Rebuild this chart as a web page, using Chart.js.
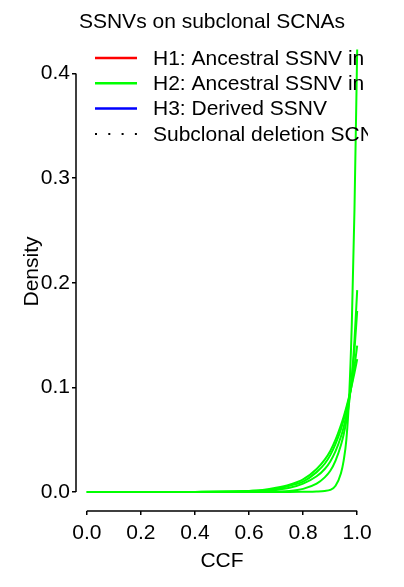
<!DOCTYPE html>
<html>
<head>
<meta charset="utf-8">
<script src="https://cdn.jsdelivr.net/npm/chart.js@4"></script>
<style>
  body { margin: 0; background: #fff; }
</style>
</head>
<body>
<canvas id="chart" width="404" height="587"></canvas>
<script>
// CCF grid and density curves (H2, green)
const ccf = [0, 0.1, 0.2, 0.3, 0.4, 0.5, 0.6, 0.65, 0.7, 0.75, 0.8, 0.85, 0.88, 0.9, 0.92, 0.94, 0.95, 0.96, 0.97, 0.98, 0.99, 1.0];
const curveA = [0, 0, 0, 0, 0, 0, 0, 0, 0, 0, 0.0002, 0.0005, 0.001, 0.002, 0.006, 0.018, 0.03, 0.05, 0.09, 0.16, 0.27, 0.423];
const curveB = [0, 0, 0, 0, 0, 0, 0.0002, 0.0003, 0.0005, 0.001, 0.003, 0.008, 0.014, 0.02, 0.03, 0.045, 0.055, 0.068, 0.085, 0.11, 0.145, 0.193];
const curveC = [0, 0, 0, 0, 0, 0.0002, 0.0006, 0.001, 0.002, 0.004, 0.008, 0.015, 0.022, 0.029, 0.039, 0.053, 0.062, 0.074, 0.088, 0.108, 0.136, 0.173];
const curveD = [0, 0, 0, 0, 0.0001, 0.0003, 0.001, 0.0015, 0.003, 0.006, 0.01, 0.019, 0.027, 0.035, 0.046, 0.06, 0.069, 0.079, 0.09, 0.103, 0.12, 0.14];
const curveE = [0, 0, 0, 0, 0.0001, 0.0004, 0.001, 0.002, 0.004, 0.007, 0.012, 0.022, 0.031, 0.039, 0.05, 0.064, 0.072, 0.081, 0.091, 0.102, 0.114, 0.127];

const xTicks = [0, 0.2, 0.4, 0.6, 0.8, 1.0];
const yTicks = [0, 0.1, 0.2, 0.3, 0.4];

const legendLabels = ["H1: Ancestral SSNV in deleted allele", "H2: Ancestral SSNV in retained allele", "H3: Derived SSNV", "Subclonal deletion SCNA"];
const legendColors = ["#FF0000", "#00FF00", "#0000FF", "#000000"];

const FONT = "'Liberation Sans', Arial, Helvetica, sans-serif";

function pts(ys) {
    return ccf.map((x, i) => ({x: x, y: ys[i]}));
}

const curves = [curveA, curveB, curveC, curveD, curveE];
const datasets = curves.map(c => ({
    data: pts(c),
    borderColor: "#00FF00",
    borderWidth: 2,
    pointRadius: 0,
    fill: false,
    cubicInterpolationMode: "monotone",
}));

// R style axes: line only from first to last tick, plus title and legend
const extras = {
    id: "extras",
    afterDraw(chart) {
        const ctx = chart.ctx;
        const xs = chart.scales.x, ys = chart.scales.y;
        const area = chart.chartArea;
        ctx.save();
        ctx.strokeStyle = "#000";
        ctx.lineWidth = 1.5;
        ctx.beginPath();
        ctx.moveTo(xs.getPixelForValue(xTicks[0]), area.bottom);
        ctx.lineTo(xs.getPixelForValue(xTicks[xTicks.length - 1]), area.bottom);
        ctx.moveTo(area.left, ys.getPixelForValue(yTicks[0]));
        ctx.lineTo(area.left, ys.getPixelForValue(yTicks[yTicks.length - 1]));
        ctx.stroke();

        // title
        ctx.fillStyle = "#000";
        ctx.font = "21px " + FONT;
        ctx.textAlign = "center";
        ctx.textBaseline = "middle";
        ctx.fillText("SSNVs on subclonal SCNAs", 212, 22);

        // legend, clipped by plot region like in R
        ctx.beginPath();
        ctx.rect(area.left, area.top - 40, area.right - area.left, area.bottom - area.top + 40);
        ctx.clip();
        ctx.textAlign = "left";
        legendLabels.forEach((lab, i) => {
            const y = 58 + i * 25.3;
            ctx.beginPath();
            ctx.strokeStyle = legendColors[i];
            if (i === 3) {
                ctx.lineWidth = 2;
                ctx.setLineDash([2, 11.3]);
            } else {
                ctx.lineWidth = 2.5;
                ctx.setLineDash([]);
            }
            ctx.moveTo(95, y);
            ctx.lineTo(137, y);
            ctx.stroke();
            ctx.setLineDash([]);
            ctx.fillText(lab, 153, y + 1);
        });
        ctx.restore();
    }
};

const config = {
    type: "line",
    data: { datasets: datasets },
    options: {
        responsive: false,
        animation: false,
        devicePixelRatio: 1,
        layout: { padding: { top: 32, right: 36, left: 0, bottom: 0 } },
        plugins: { legend: { display: false }, tooltip: { enabled: false } },
        scales: {
            x: {
                type: "linear",
                min: -0.04,
                max: 1.04,
                afterBuildTicks: s => { s.ticks = xTicks.map(v => ({value: v})); },
                afterFit: s => { s.height = 76; },
                grid: { drawOnChartArea: false, drawTicks: true, tickLength: 4, color: "#000", lineWidth: 1.5 },
                border: { display: false },
                ticks: {
                    color: "#000", padding: 6, maxRotation: 0, autoSkip: false,
                    font: { size: 21, family: FONT },
                    callback: v => v.toFixed(1),
                },
                title: { display: true, text: "CCF", color: "#000", font: { size: 21, family: FONT }, padding: { top: 0, bottom: 13 } },
            },
            y: {
                min: -0.01816,
                max: 0.4397,
                afterBuildTicks: s => { s.ticks = yTicks.map(v => ({value: v})); },
                afterFit: s => { s.width = 76; },
                grid: { drawOnChartArea: false, drawTicks: true, tickLength: 4, color: "#000", lineWidth: 1.5 },
                border: { display: false },
                ticks: {
                    color: "#000", padding: 2, autoSkip: false,
                    font: { size: 21, family: FONT },
                    callback: v => v.toFixed(1),
                },
                title: { display: true, text: "Density", color: "#000", font: { size: 21, family: FONT }, padding: { top: 20, bottom: 0 } },
            }
        }
    },
    plugins: [extras]
};

const chart = new Chart(document.getElementById("chart"), config);
</script>
</body>
</html>
